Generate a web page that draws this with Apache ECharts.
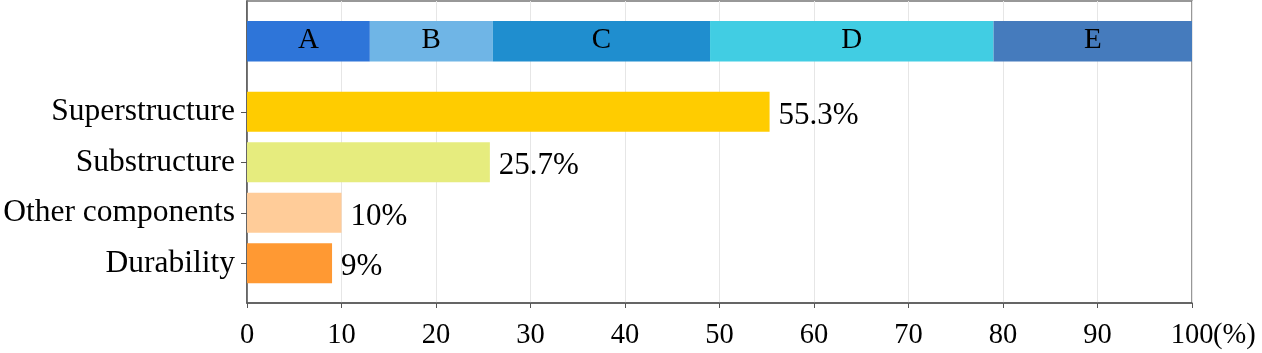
<!DOCTYPE html>
<html>
<head>
<meta charset="utf-8">
<script src="https://cdn.jsdelivr.net/npm/echarts@6/dist/echarts.min.js"></script>
<style>
  html, body { margin: 0; padding: 0; background: #fff; }
  #chart { width: 1262px; height: 353px; }
</style>
</head>
<body>
<div id="chart"></div>
<script>
// top band segments (share of 100%)
const bandNames = ['A', 'B', 'C', 'D', 'E'];
const bandValues = [13, 13, 23, 30, 21];
const bandColors = ['#2e75d9', '#6fb5e6', '#1f8ecf', '#41cde3', '#457bbd'];

// horizontal bars, bottom to top
const categories = ['Durability', 'Other components', 'Substructure', 'Superstructure'];
const values = [9, 10, 25.7, 55.3];
const barColors = ['#ff9933', '#ffcc99', '#e6ec7e', '#ffcc00'];

const xUnit = '(%)';

const font = "'Liberation Serif', 'Times New Roman', serif";

const chart = echarts.init(document.getElementById('chart'), null, { renderer: 'canvas' });

const bandSeries = bandNames.map((n, i) => ({
  type: 'bar',
  name: n,
  stack: 'band',
  xAxisIndex: 1,
  yAxisIndex: 1,
  barCategoryGap: 0,
  data: [bandValues[i]],
  itemStyle: { color: bandColors[i] },
  label: {
    show: true,
    position: 'inside',
    formatter: n,
    color: '#000',
    fontFamily: font,
    fontSize: 29,
    offset: [0, -1]
  },
  silent: true
}));

chart.setOption({
  animation: false,
  grid: [
    { left: 247, right: 70, top: 1, bottom: 50, show: true, borderColor: '#777', borderWidth: 1.5, outerBoundsMode: 'none' },
    { left: 247, right: 70, top: 21, height: 40.5, outerBoundsMode: 'none' },
    { left: 247, right: 70, top: 86.5, height: 202, outerBoundsMode: 'none' }
  ],
  xAxis: [
    {
      type: 'value', gridIndex: 0, min: 0, max: 100, interval: 10,
      name: xUnit,
      nameLocation: 'end',
      nameGap: 21,
      nameMoveOverlap: false,
      nameTextStyle: {
        color: '#000', fontFamily: font, fontSize: 28.5,
        verticalAlign: 'top', padding: [18, 0, 0, 0]
      },
      axisLine: { show: true, lineStyle: { color: '#555', width: 1.5 } },
      axisTick: { show: true, length: 5, lineStyle: { color: '#555' } },
      splitLine: { show: true, lineStyle: { color: '#e6e6e6' } },
      axisLabel: {
        color: '#000', fontFamily: font, fontSize: 28.5, margin: 18
      }
    },
    { type: 'value', gridIndex: 1, min: 0, max: 100, show: false },
    { type: 'value', gridIndex: 2, min: 0, max: 100, show: false }
  ],
  yAxis: [
    {
      type: 'value', gridIndex: 0, min: 0, max: 1,
      axisLine: { show: true, lineStyle: { color: '#555', width: 1.5 } },
      axisTick: { show: false }, axisLabel: { show: false }, splitLine: { show: false }
    },
    { type: 'category', gridIndex: 1, data: ['band'], show: false },
    {
      type: 'category', gridIndex: 2, data: categories,
      axisLine: { show: false },
      axisTick: { show: true, alignWithLabel: true, length: 6, lineStyle: { color: '#555' } },
      axisLabel: { color: '#000', fontFamily: font, fontSize: 31.5, margin: 12 }
    }
  ],
  series: bandSeries.concat([{
    type: 'bar',
    xAxisIndex: 2,
    yAxisIndex: 2,
    barWidth: 40,
    data: values.map((v, i) => ({ value: v, itemStyle: { color: barColors[i] } })),
    label: {
      show: true,
      position: 'right',
      distance: 9,
      formatter: p => p.value + '%',
      color: '#000',
      fontFamily: font,
      fontSize: 31,
      offset: [0, 4]
    },
    silent: true
  }])
});

window.addEventListener('resize', () => chart.resize());
</script>
</body>
</html>
